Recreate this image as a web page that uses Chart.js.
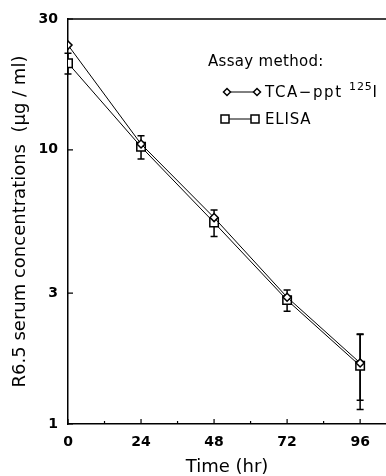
<!DOCTYPE html>
<html><head><meta charset="utf-8">
<script src="https://cdn.jsdelivr.net/npm/chart.js@4"></script>
<style>
html,body{margin:0;padding:0;background:#fff;}
#wrap{position:relative;width:386px;height:476px;overflow:hidden;}
canvas{position:absolute;left:0;top:0;}
.lg{position:absolute;font-family:"DejaVu Sans",sans-serif;font-size:15px;color:#000;white-space:nowrap;line-height:16px;letter-spacing:0.3px;}
.lg sup{font-size:11px;position:relative;top:-5px;vertical-align:top;letter-spacing:0.8px;}
svg{position:absolute;}
</style></head><body>
<div id="wrap">
<canvas id="c" width="386" height="476"></canvas>
<div class="lg" style="left:208px;top:53px">Assay method:</div>
<svg style="left:220px;top:85px" width="44" height="14"><polygon points="3.5,7 7,3.5 10.5,7 7,10.5" fill="#fff" stroke="#000" stroke-width="1.5"/><line x1="10.5" y1="7" x2="33.5" y2="7" stroke="#000" stroke-width="1"/><polygon points="33.5,7 37,3.5 40.5,7 37,10.5" fill="#fff" stroke="#000" stroke-width="1.5"/></svg>
<div class="lg" style="left:265px;top:84px;letter-spacing:1.6px">TCA−ppt <sup>125</sup>I</div>
<svg style="left:218px;top:112px" width="44" height="14"><rect x="3" y="3" width="8" height="8" fill="#fff" stroke="#000" stroke-width="1.5"/><line x1="11" y1="7" x2="33" y2="7" stroke="#000" stroke-width="1"/><rect x="33" y="3" width="8" height="8" fill="#fff" stroke="#000" stroke-width="1.5"/></svg>
<div class="lg" style="left:265px;top:111px;letter-spacing:0.8px">ELISA</div>
</div>
<script>
const times = [0, 24, 48, 72, 96];
const tcaValues = [24.1, 10.5, 5.66, 2.9, 1.67];
const elisaValues = [20.7, 10.26, 5.43, 2.83, 1.63];
const tcaErrors = [null, null, null, null, 0.45];
const elisaErrors = [1.8, 1.0, 0.6, 0.25, 0.5];
const xTickValues = [0, 24, 48, 72, 96];
const xMinorTicks = [12, 36, 60, 84];
const yTickValues = [1, 3, 10, 30];
const xTitle = 'Time (hr)';
const yTitle = 'R6.5 serum concentrations  (\u03BCg / ml)';

const errs = [tcaErrors, elisaErrors];

const decor = {
  id: 'decor',
  beforeDatasetsDraw(chart) {
    const ctx = chart.ctx, xs = chart.scales.x, ys = chart.scales.y;
    ctx.save();
    ctx.strokeStyle = '#000';
    ctx.lineWidth = 1.5;
    chart.data.datasets.forEach((ds, i) => {
      const e = errs[i];
      ds.data.forEach((p, j) => {
        if (e[j] == null) return;
        const x = xs.getPixelForValue(p.x);
        const yt = ys.getPixelForValue(p.y + e[j]);
        const yb = ys.getPixelForValue(p.y - e[j]);
        ctx.beginPath();
        ctx.moveTo(x, yt); ctx.lineTo(x, yb);
        ctx.moveTo(x - 3.5, yt); ctx.lineTo(x + 3.5, yt);
        ctx.moveTo(x - 3.5, yb); ctx.lineTo(x + 3.5, yb);
        ctx.stroke();
      });
    });
    ctx.restore();
  },
  afterDraw(chart) {
    const ctx = chart.ctx, xs = chart.scales.x, ys = chart.scales.y, a = chart.chartArea;
    ctx.save();
    ctx.strokeStyle = '#000';
    ctx.lineWidth = 1.5;
    ctx.beginPath();
    ctx.moveTo(a.left, a.top); ctx.lineTo(a.right, a.top);
    ctx.stroke();
    ctx.lineWidth = 1.2;
    ctx.beginPath();
    xTickValues.forEach(v => { const x = xs.getPixelForValue(v); ctx.moveTo(x, a.bottom); ctx.lineTo(x, a.bottom - 5); });
    xMinorTicks.forEach(v => { const x = xs.getPixelForValue(v); ctx.moveTo(x, a.bottom); ctx.lineTo(x, a.bottom - 3); });
    yTickValues.forEach(v => { const y = ys.getPixelForValue(v); ctx.moveTo(a.left, y); ctx.lineTo(a.left + 5, y); });
    ctx.stroke();
    ctx.restore();
  }
};

new Chart(document.getElementById('c'), {
  type: 'line',
  data: {
    datasets: [
      { label: 'TCA-ppt 125I', data: times.map((t, i) => ({x: t, y: tcaValues[i]})),
        borderColor: '#000', borderWidth: 1, backgroundColor: '#fff',
        pointStyle: 'rectRot', pointRadius: 4, pointBorderWidth: 1.5, pointBackgroundColor: '#fff', pointBorderColor: '#000' },
      { label: 'ELISA', data: times.map((t, i) => ({x: t, y: elisaValues[i]})),
        borderColor: '#000', borderWidth: 1, backgroundColor: '#fff',
        pointStyle: 'rect', pointRadius: 6, pointBorderWidth: 1.5, pointBackgroundColor: '#fff', pointBorderColor: '#000' }
    ]
  },
  options: {
    responsive: false,
    animation: false,
    devicePixelRatio: 1,
    layout: { autoPadding: false, padding: { top: 19, right: 0, left: 0, bottom: 0 } },
    plugins: { legend: { display: false }, tooltip: { enabled: false } },
    scales: {
      x: {
        type: 'linear', min: 0, max: 104.5,
        grid: { display: false, drawTicks: false },
        border: { display: true, color: '#000', width: 1.5 },
        afterBuildTicks: s => { s.ticks = xTickValues.map(v => ({value: v})); },
        afterFit: s => { s.height = 52; s.paddingRight = 0; s.paddingLeft = 0; },
        ticks: { autoSkip: false, maxRotation: 0, padding: 10, color: '#000',
                 font: { family: 'DejaVu Sans', size: 14, weight: 'bold' }, callback: v => String(v) },
        title: { display: true, text: xTitle, color: '#000', padding: { top: 0, bottom: 0 },
                 font: { family: 'DejaVu Sans', size: 18, lineHeight: 1 } }
      },
      y: {
        type: 'logarithmic', min: 1, max: 30,
        grid: { display: false, drawTicks: false },
        border: { display: true, color: '#000', width: 1.5 },
        afterBuildTicks: s => { s.ticks = yTickValues.map(v => ({value: v})); },
        afterFit: s => { s.width = 68; s.paddingTop = 0; s.paddingBottom = 0; },
        ticks: { autoSkip: false, padding: 10, color: '#000',
                 font: { family: 'DejaVu Sans', size: 14, weight: 'bold' }, callback: v => String(v) },
        title: { display: true, text: yTitle, color: '#000', padding: { top: 10, bottom: 0 },
                 font: { family: 'DejaVu Sans', size: 18, lineHeight: 1.2 } }
      }
    }
  },
  plugins: [decor]
});
</script>
</body></html>
